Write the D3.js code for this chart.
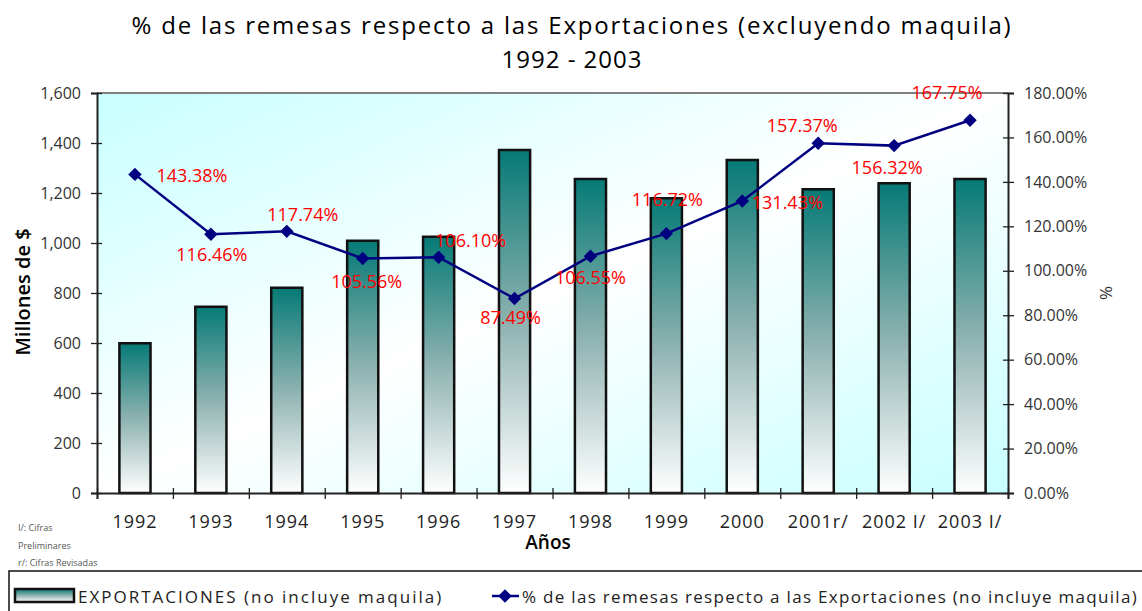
<!DOCTYPE html>
<html>
<head>
<meta charset="utf-8">
<script src="https://cdn.jsdelivr.net/npm/d3@7"></script>
<style>
  body { margin: 0; background: #fff; }
  text { font-family: "Open Sans", "DejaVu Sans", sans-serif; }
</style>
</head>
<body>
<div id="chart"></div>
<script>
// data
var years = ["1992", "1993", "1994", "1995", "1996", "1997", "1998", "1999", "2000", "2001r/", "2002 I/", "2003 I/"];
var exportaciones = [599, 745, 821, 1009, 1025, 1372, 1256, 1179, 1332, 1215, 1239, 1256];
var remesasPct = [143.38, 116.46, 117.74, 105.56, 106.10, 87.49, 106.55, 116.72, 131.43, 157.37, 156.32, 167.75];
var leftTicks = [0, 200, 400, 600, 800, 1000, 1200, 1400, 1600];
var rightTicks = [0, 20, 40, 60, 80, 100, 120, 140, 160, 180];

var width = 1142, height = 611;
var plot = {left: 97, right: 1008, top: 93, bottom: 493};

var svg = d3.select("#chart")
  .append("svg")
    .attr("width", width)
    .attr("height", height);

var defs = svg.append("defs");

// plot area background
var bg = defs.append("linearGradient")
    .attr("id", "bgGrad")
    .attr("x1", 0).attr("y1", 0).attr("x2", 1).attr("y2", 1);
bg.append("stop").attr("offset", "0%").attr("stop-color", "#c8ffff");
bg.append("stop").attr("offset", "50%").attr("stop-color", "#ffffff");
bg.append("stop").attr("offset", "100%").attr("stop-color", "#c8ffff");

// bar fill
var barGrad = defs.append("linearGradient")
    .attr("id", "barGrad")
    .attr("x1", 0).attr("y1", 0).attr("x2", 0).attr("y2", 1);
barGrad.append("stop").attr("offset", "0%").attr("stop-color", "#067a76");
barGrad.append("stop").attr("offset", "50%").attr("stop-color", "#8db2b0");
barGrad.append("stop").attr("offset", "100%").attr("stop-color", "#ffffff");

svg.append("rect")
    .attr("x", plot.left)
    .attr("y", plot.top)
    .attr("width", plot.right - plot.left)
    .attr("height", plot.bottom - plot.top)
    .attr("fill", "url(#bgGrad)");

// scales
var x = d3.scaleBand()
  .domain(years)
  .range([plot.left, plot.right]);

var xEdges = d3.scaleLinear()
  .domain([0, years.length])
  .range([plot.left, plot.right]);

var yLeft = d3.scaleLinear()
  .domain([0, 1600])
  .range([plot.bottom, plot.top]);

var yRight = d3.scaleLinear()
  .domain([0, 180])
  .range([plot.bottom, plot.top]);

// top border
svg.append("line")
    .attr("x1", plot.left).attr("x2", plot.right)
    .attr("y1", plot.top).attr("y2", plot.top)
    .attr("stroke", "#808080")
    .attr("stroke-width", 2);

// bars
var barW = x.bandwidth() * 0.41;
svg.selectAll(".bar")
  .data(exportaciones)
  .enter()
  .append("rect")
    .attr("class", "bar")
    .attr("x", (d, i) => x(years[i]) + (x.bandwidth() - barW) / 2)
    .attr("y", d => yLeft(d))
    .attr("width", barW)
    .attr("height", d => plot.bottom - yLeft(d))
    .attr("fill", "url(#barGrad)")
    .attr("stroke", "#111")
    .attr("stroke-width", 2.5);

// left axis
var leftAxis = svg.append("g")
  .attr("transform", "translate(" + plot.left + ",0)")
  .call(d3.axisLeft(yLeft).tickValues(leftTicks).tickFormat(d3.format(",")).tickSize(6).tickPadding(10));
leftAxis.selectAll(".tick line").attr("x1", 5);

// right axis
var rightAxis = svg.append("g")
  .attr("transform", "translate(" + plot.right + ",0)")
  .call(d3.axisRight(yRight).tickValues(rightTicks).tickFormat(d => d.toFixed(2) + "%").tickSize(6).tickPadding(10));
rightAxis.selectAll(".tick line").attr("x1", -5);

// bottom axis: edge ticks and labels
var edgeAxis = svg.append("g")
  .attr("transform", "translate(0," + plot.bottom + ")")
  .call(d3.axisBottom(xEdges).ticks(years.length).tickFormat("").tickSize(6));
edgeAxis.selectAll(".tick line").attr("y1", -5);

var labelAxis = svg.append("g")
  .attr("transform", "translate(0," + plot.bottom + ")")
  .call(d3.axisBottom(x).tickSize(0).tickPadding(22));
labelAxis.select(".domain").remove();

[leftAxis, rightAxis, edgeAxis].forEach(function(g) {
  g.select(".domain").attr("stroke", "#222").attr("stroke-width", 2);
  g.selectAll(".tick line").attr("stroke", "#222").attr("stroke-width", 1.3);
});
leftAxis.selectAll("text").style("font-size", "16px").attr("fill", "#333");
rightAxis.selectAll("text").style("font-size", "16px").attr("fill", "#333");
labelAxis.selectAll("text").style("font-size", "18px").style("letter-spacing", "1px").attr("fill", "#222");

// line
var line = d3.line()
  .x((d, i) => x(years[i]) + x.bandwidth() / 2)
  .y(d => yRight(d));

svg.append("path")
  .datum(remesasPct)
  .attr("d", line)
  .attr("fill", "none")
  .attr("stroke", "#000080")
  .attr("stroke-width", 2.5);

var diamond = d3.symbol().type(d3.symbolSquare).size(90);
svg.selectAll(".marker")
  .data(remesasPct)
  .enter()
  .append("path")
    .attr("class", "marker")
    .attr("d", diamond)
    .attr("transform", (d, i) => "translate(" + (x(years[i]) + x.bandwidth() / 2) + "," + yRight(d) + ") rotate(45)")
    .attr("fill", "#000080");

// where each value label sits relative to its marker
var labelOffsets = [[57, 1], [1, 20], [16, -17], [4, 23], [32, -17], [-4, 18],
                    [0, 21], [1, -35], [45, 1], [-16, -18], [-7, 21], [-23, -28]];
svg.selectAll(".vlabel")
  .data(remesasPct)
  .enter()
  .append("text")
    .attr("class", "vlabel")
    .attr("x", (d, i) => x(years[i]) + x.bandwidth() / 2 + labelOffsets[i][0])
    .attr("y", (d, i) => yRight(d) + labelOffsets[i][1])
    .attr("text-anchor", "middle")
    .attr("dominant-baseline", "central")
    .style("font-size", "18px")
    .attr("fill", "#ff0000")
    .text(d => d.toFixed(2) + "%");

// titles
svg.append("text")
    .attr("x", 572).attr("y", 34)
    .attr("text-anchor", "middle")
    .style("font-size", "24px")
    .style("letter-spacing", "1.8px")
    .text("% de las remesas respecto a las Exportaciones (excluyendo maquila)");
svg.append("text")
    .attr("x", 572).attr("y", 68)
    .attr("text-anchor", "middle")
    .style("font-size", "24px")
    .style("letter-spacing", "1px")
    .text("1992 - 2003");

svg.append("text")
    .attr("transform", "translate(30,292) rotate(-90)")
    .attr("text-anchor", "middle")
    .style("font-size", "20px")
    .style("font-weight", 600)
    .text("Millones de $");

svg.append("text")
    .attr("transform", "translate(1112,293) rotate(-90)")
    .attr("text-anchor", "middle")
    .style("font-size", "17px")
    .attr("fill", "#333")
    .text("%");

svg.append("text")
    .attr("x", 548).attr("y", 549)
    .attr("text-anchor", "middle")
    .style("font-size", "19px")
    .style("font-weight", 600)
    .text("Años");

// footnotes
var notes = ["I/: Cifras", "Preliminares", "r/: Cifras Revisadas"];
svg.selectAll(".note")
  .data(notes)
  .enter()
  .append("text")
    .attr("x", 18)
    .attr("y", (d, i) => 531 + i * 17.5)
    .style("font-size", "9px")
    .attr("fill", "#555")
    .text(d => d);

// legend
var legend = svg.append("g");
legend.append("rect")
    .attr("x", 9).attr("y", 571)
    .attr("width", 1140).attr("height", 50)
    .attr("fill", "#fff")
    .attr("stroke", "#111")
    .attr("stroke-width", 1.5);
legend.append("rect")
    .attr("x", 15).attr("y", 589)
    .attr("width", 59).attr("height", 13)
    .attr("fill", "url(#barGrad)")
    .attr("stroke", "#111")
    .attr("stroke-width", 2.5);
legend.append("text")
    .attr("x", 78).attr("y", 603)
    .style("font-size", "17px")
    .style("letter-spacing", "2px")
    .attr("fill", "#222")
    .text("EXPORTACIONES (no incluye maquila)");
legend.append("line")
    .attr("x1", 492).attr("x2", 519)
    .attr("y1", 596).attr("y2", 596)
    .attr("stroke", "#000080")
    .attr("stroke-width", 2.5);
legend.append("path")
    .attr("d", diamond)
    .attr("transform", "translate(505,596) rotate(45)")
    .attr("fill", "#000080");
legend.append("text")
    .attr("x", 522).attr("y", 603)
    .style("font-size", "17px")
    .style("letter-spacing", "1.3px")
    .attr("fill", "#222")
    .text("% de las remesas respecto a las Exportaciones (no incluye maquila)");
</script>
</body>
</html>
